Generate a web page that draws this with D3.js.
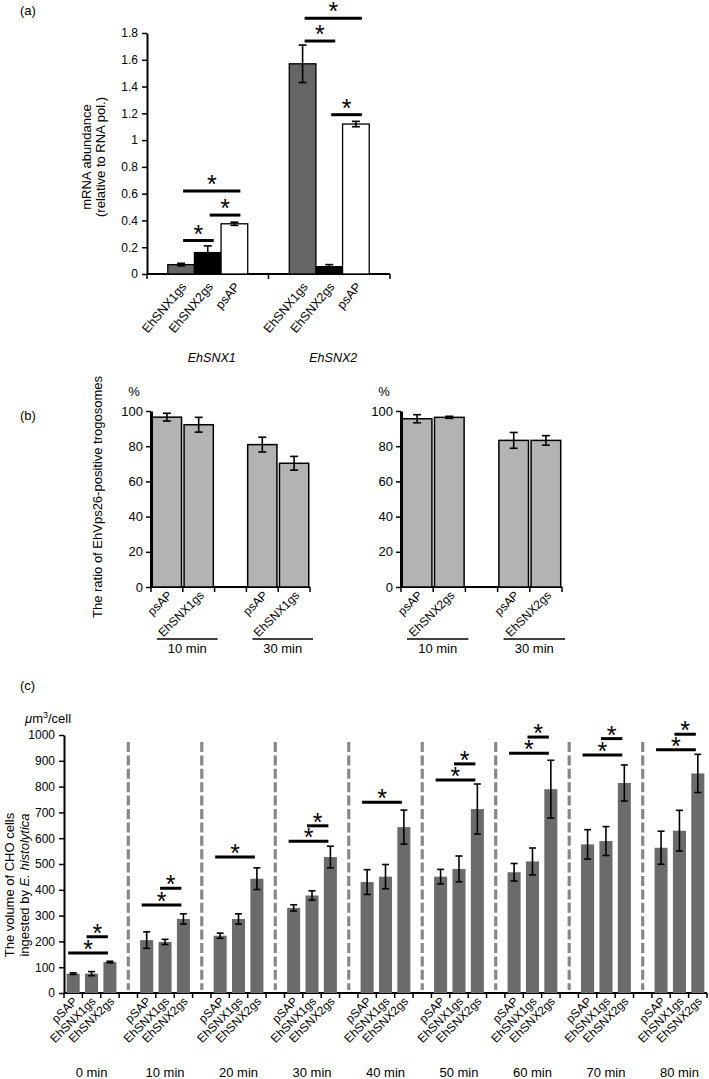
<!DOCTYPE html>
<html><head><meta charset="utf-8">
<script src="https://cdn.jsdelivr.net/npm/d3@7/dist/d3.min.js"></script>
<style>
body{margin:0;background:#fff}
text{font-family:"Liberation Sans",Arial,Helvetica,sans-serif;fill:#000}
</style>
</head><body>
<svg id="fig" width="709" height="1079"></svg>
<script>
// ================= DATA =================
// Panel (a): mRNA abundance
const aGenes = ["EhSNX1", "EhSNX2"];
const aStrains = ["EhSNX1gs", "EhSNX2gs", "psAP"];
const aColors = ["#666666", "#000000", "#ffffff"];
const aMeans = [[0.07, 0.16, 0.375], [1.57, 0.055, 1.12]];
const aErrors = [[0.01, 0.05, 0.012], [0.14, 0.015, 0.02]];
const aTicks = [0, 0.2, 0.4, 0.6, 0.8, 1, 1.2, 1.4, 1.6, 1.8];
const aTickLabels = ["0", "0.2", "0.4", "0.6", "0.8", "1", "1.2", "1.4", "1.6", "1.8"];
const aSig = [ // gene index, from strain, to strain, height
  {g: 0, a: 0, b: 1, y: 0.25}, {g: 0, a: 1, b: 2, y: 0.44}, {g: 0, a: 0, b: 2, y: 0.62},
  {g: 1, a: 0, b: 1, y: 1.74}, {g: 1, a: 1, b: 2, y: 1.19}, {g: 1, a: 0, b: 2, y: 1.91}
];

// Panel (b): ratio of EhVps26-positive trogosomes (%)
const bTimes = ["10 min", "30 min"];
const bStrainsLeft = ["psAP", "EhSNX1gs"];
const bStrainsRight = ["psAP", "EhSNX2gs"];
const bMeansLeft = [[96.5, 92.2], [80.9, 70.3]];
const bErrorsLeft = [[2.2, 4.2], [4.2, 3.9]];
const bMeansRight = [[95.6, 96.4], [83.3, 83.3]];
const bErrorsRight = [[2.3, 0.6], [4.5, 2.7]];
const bTicks = [0, 20, 40, 60, 80, 100];

// Panel (c): volume of CHO cells ingested (um^3/cell)
const cTimes = ["0 min", "10 min", "20 min", "30 min", "40 min", "50 min", "60 min", "70 min", "80 min"];
const cStrains = ["pSAP", "EhSNX1gs", "EhSNX2gs"];
const cMeansPSAP = [75, 205, 222, 330, 430, 451, 468, 576, 563];
const cMeansSNX1 = [75, 198, 287, 378, 451, 481, 510, 589, 629];
const cMeansSNX2 = [120, 287, 443, 527, 643, 713, 790, 814, 851];
const cErrPSAP = [3, 32, 10, 12, 48, 28, 34, 57, 64];
const cErrSNX1 = [8, 10, 20, 18, 47, 50, 52, 56, 79];
const cErrSNX2 = [3, 20, 42, 42, 66, 97, 112, 70, 74];
const cTicks = [0, 100, 200, 300, 400, 500, 600, 700, 800, 900, 1000];
const cSig = [ // time index, from strain, to strain, height
  {t: 0, a: 0, b: 2, y: 155}, {t: 0, a: 1, b: 2, y: 218},
  {t: 1, a: 0, b: 2, y: 341}, {t: 1, a: 1, b: 2, y: 406},
  {t: 2, a: 0, b: 2, y: 527},
  {t: 3, a: 0, b: 2, y: 588}, {t: 3, a: 1, b: 2, y: 648},
  {t: 4, a: 0, b: 2, y: 739},
  {t: 5, a: 0, b: 2, y: 826}, {t: 5, a: 1, b: 2, y: 888},
  {t: 6, a: 0, b: 2, y: 929}, {t: 6, a: 1, b: 2, y: 992},
  {t: 7, a: 0, b: 2, y: 922}, {t: 7, a: 1, b: 2, y: 986},
  {t: 8, a: 0, b: 2, y: 943}, {t: 8, a: 1, b: 2, y: 1003}
];

// ================= DRAWING =================
const svg = d3.select("#fig");

function errBar(g, x, y0, y1, cap, color) {
  g.append("line").attr("x1", x).attr("x2", x).attr("y1", y0).attr("y2", y1)
    .attr("stroke", color).attr("stroke-width", 1.6);
  [y0, y1].forEach(yy => g.append("line").attr("x1", x - cap / 2).attr("x2", x + cap / 2)
    .attr("y1", yy).attr("y2", yy).attr("stroke", color).attr("stroke-width", 1.6));
}
function sigMark(g, x1, x2, y, starDy) {
  g.append("line").attr("x1", x1).attr("x2", x2).attr("y1", y).attr("y2", y)
    .attr("stroke", "#000").attr("stroke-width", 3);
  g.append("text").attr("x", (x1 + x2) / 2).attr("y", y + starDy)
    .attr("text-anchor", "middle").attr("font-size", 25).text("*");
}
function styleAxis(sel, w) {
  sel.select(".domain").attr("stroke", "#000").attr("stroke-width", w);
  sel.selectAll(".tick line").attr("stroke", "#000").attr("stroke-width", 1.5);
}

// ---------- Panel (a) ----------
(function () {
  const g = svg.append("g");
  g.append("text").attr("x", 20).attr("y", 15).attr("font-size", 13).text("(a)");
  const x = d3.scaleBand().domain(aGenes).range([147, 390]);
  const xi = d3.scaleBand().domain(aStrains).range([0, x.bandwidth()]).paddingInner(0).paddingOuter(0.78);
  const y = d3.scaleLinear().domain([0, 1.8]).range([274, 33]);

  const yAx = g.append("g").attr("transform", "translate(147,0)")
    .call(d3.axisLeft(y).tickValues(aTicks).tickFormat((d, i) => aTickLabels[i]).tickSize(5).tickSizeOuter(0).tickPadding(4));
  styleAxis(yAx, 2);
  yAx.selectAll("text").attr("font-size", 12).attr("font-family", '"Liberation Sans",Arial,sans-serif');

  // x axis line with ticks at group boundaries
  g.append("line").attr("x1", x.range()[0]).attr("x2", x.range()[1]).attr("y1", y(0)).attr("y2", y(0))
    .attr("stroke", "#000").attr("stroke-width", 2);
  const bounds = aGenes.map(d => x(d)).concat([x.range()[1]]);
  bounds.forEach(b => g.append("line").attr("x1", b).attr("x2", b).attr("y1", y(0)).attr("y2", y(0) + 5)
    .attr("stroke", "#000").attr("stroke-width", 1.5));

  aGenes.forEach((gene, gi) => {
    aStrains.forEach((s, si) => {
      const v = aMeans[gi][si], e = aErrors[gi][si];
      const bx = x(gene) + xi(s);
      g.append("rect").attr("x", bx).attr("y", y(v)).attr("width", xi.bandwidth()).attr("height", y(0) - y(v))
        .attr("fill", aColors[si]).attr("stroke", "#000").attr("stroke-width", 1.3);
      errBar(g, bx + xi.bandwidth() / 2, y(v - e), y(v + e), 8, "#000");
      g.append("text")
        .attr("transform", `translate(${bx + xi.bandwidth() / 2 + 6},${y(0) + 13}) rotate(-50)`)
        .attr("text-anchor", "end").attr("font-size", 12.5).text(s);
    });
    g.append("text").attr("x", x(gene) + x.bandwidth() / 2 + 4).attr("y", 362)
      .attr("text-anchor", "middle").attr("font-size", 12.5).attr("font-style", "italic").text(gene);
  });
  aSig.forEach(s => {
    const c = i => x(aGenes[s.g]) + xi(aStrains[i]) + xi.bandwidth() / 2;
    sigMark(g, c(s.a) + 2, c(s.b) + 6, y(s.y), 2);
  });
  const yl = g.append("text").attr("transform", "translate(91,157) rotate(-90)")
    .attr("text-anchor", "middle").attr("font-size", 13);
  yl.append("tspan").attr("x", 0).attr("dy", 0).text("mRNA abundance");
  yl.append("tspan").attr("x", 0).attr("dy", 14).text("(relative to RNA pol.)");
})();

// ---------- Panel (b) ----------
function panelB(x0, x1, strains, means, errs, drawYLabel) {
  const g = svg.append("g");
  const cats = d3.range(bTimes.length * 3 - 1);
  const x = d3.scaleBand().domain(cats).range([x0, x1]).paddingInner(0.08).paddingOuter(0.04);
  const y = d3.scaleLinear().domain([0, 100]).range([587, 411]);
  const yAx = g.append("g").attr("transform", `translate(${x0},0)`)
    .call(d3.axisLeft(y).tickValues(bTicks).tickSize(5).tickSizeOuter(0).tickPadding(3));
  styleAxis(yAx, 3);
  yAx.selectAll("text").attr("font-size", 13).attr("font-family", 'Lato,"Open Sans",sans-serif');
  g.append("text").attr("x", x0 - 17).attr("y", 396).attr("text-anchor", "middle")
    .attr("font-size", 13).attr("font-family", 'Lato,sans-serif').text("%");

  g.append("line").attr("x1", x0).attr("x2", x1).attr("y1", y(0)).attr("y2", y(0))
    .attr("stroke", "#000").attr("stroke-width", 2.2);
  d3.range(cats.length + 1).forEach(i => {
    const bx = x0 + i * x.step();
    g.append("line").attr("x1", bx).attr("x2", bx).attr("y1", y(0)).attr("y2", y(0) + 5)
      .attr("stroke", "#000").attr("stroke-width", 1.5);
  });

  bTimes.forEach((t, ti) => {
    strains.forEach((s, si) => {
      const ci = ti * 3 + si, v = means[ti][si], e = errs[ti][si];
      const cx = x(ci) + x.bandwidth() / 2;
      g.append("rect").attr("x", x(ci)).attr("y", y(v)).attr("width", x.bandwidth()).attr("height", y(0) - y(v))
        .attr("fill", "#b3b3b3").attr("stroke", "#000").attr("stroke-width", 1.5);
      errBar(g, cx, y(v - e), y(v + e), 8, "#000");
      g.append("text").attr("transform", `translate(${cx + 6},${y(0) + 9}) rotate(-45)`)
        .attr("text-anchor", "end").attr("font-size", 12).text(s);
    });
    const lx1 = x0 + ti * 3 * x.step() + 6, lx2 = x0 + (ti * 3 + 2) * x.step() + 3;
    g.append("line").attr("x1", lx1).attr("x2", lx2).attr("y1", 639).attr("y2", 639)
      .attr("stroke", "#000").attr("stroke-width", 1.5);
    g.append("text").attr("x", (lx1 + lx2) / 2).attr("y", 653).attr("text-anchor", "middle")
      .attr("font-size", 13).text(t);
  });
  if (drawYLabel) {
    g.append("text").attr("transform", "translate(102,497) rotate(-90)").attr("text-anchor", "middle")
      .attr("font-size", 13).text("The ratio of EhVps26-positive trogosomes");
    g.append("text").attr("x", 20).attr("y", 420).attr("font-size", 13).text("(b)");
  }
}
panelB(151, 310, bStrainsLeft, bMeansLeft, bErrorsLeft, true);
panelB(401, 562, bStrainsRight, bMeansRight, bErrorsRight, false);

// ---------- Panel (c) ----------
(function () {
  const g = svg.append("g");
  g.append("text").attr("x", 20).attr("y", 690).attr("font-size", 13).text("(c)");
  const nCat = cTimes.length * 4 - 1;
  const x = d3.scaleBand().domain(d3.range(nCat)).range([64, 707]).paddingInner(0.29).paddingOuter(0.145);
  const y = d3.scaleLinear().domain([0, 1000]).range([993, 735]);
  const means = [cMeansPSAP, cMeansSNX1, cMeansSNX2];
  const errs = [cErrPSAP, cErrSNX1, cErrSNX2];
  const ctr = i => x(i) + x.bandwidth() / 2;

  // dashed separators
  d3.range(cTimes.length - 1).forEach(t => {
    const sx = ctr(t * 4 + 3);
    g.append("line").attr("x1", sx).attr("x2", sx).attr("y1", 742).attr("y2", 990)
      .attr("stroke", "#888").attr("stroke-width", 3.2).attr("stroke-dasharray", "10,3.4");
  });

  const yAx = g.append("g").attr("transform", "translate(64,0)")
    .call(d3.axisLeft(y).tickValues(cTicks).tickFormat(d3.format("d")).tickSize(5).tickSizeOuter(0).tickPadding(4));
  styleAxis(yAx, 2);
  yAx.selectAll("text").attr("font-size", 12).attr("font-family", '"Liberation Sans",Arial,sans-serif');

  g.append("line").attr("x1", 64).attr("x2", 707).attr("y1", y(0)).attr("y2", y(0))
    .attr("stroke", "#000").attr("stroke-width", 2);
  d3.range(nCat + 1).forEach(i => {
    const bx = 64 + i * x.step();
    g.append("line").attr("x1", bx).attr("x2", bx).attr("y1", y(0)).attr("y2", y(0) + 5)
      .attr("stroke", "#000").attr("stroke-width", 1.5);
  });

  cTimes.forEach((t, ti) => {
    cStrains.forEach((s, si) => {
      const ci = ti * 4 + si, v = means[si][ti], e = errs[si][ti];
      g.append("rect").attr("x", x(ci)).attr("y", y(v)).attr("width", x.bandwidth()).attr("height", y(0) - y(v))
        .attr("fill", "#6b6b6b");
      errBar(g, ctr(ci), y(v - e), y(v + e), 7, "#000");
      g.append("text").attr("transform", `translate(${ctr(ci) + 5},${y(0) + 9}) rotate(-45)`)
        .attr("text-anchor", "end").attr("font-size", 12).text(s);
    });
    g.append("text").attr("x", ctr(ti * 4 + 1)).attr("y", 1077).attr("text-anchor", "middle")
      .attr("font-size", 13).text(t);
  });
  cSig.forEach(s => {
    sigMark(g, ctr(s.t * 4 + s.a) - 5, ctr(s.t * 4 + s.b) - 2, y(s.y), 5);
  });

  const u = g.append("text").attr("x", 25).attr("y", 723).attr("font-size", 13);
  u.append("tspan").attr("font-style", "italic").text("\u03bc");
  u.append("tspan").text("m");
  u.append("tspan").attr("font-size", 9).attr("dy", -5).text("3");
  u.append("tspan").attr("dy", 5).text("/cell");

  const yl = g.append("text").attr("transform", "translate(14,885) rotate(-90)")
    .attr("text-anchor", "middle").attr("font-size", 13);
  yl.append("tspan").attr("x", 0).attr("dy", 0).text("The volume of CHO cells");
  const l2 = yl.append("tspan").attr("x", 0).attr("dy", 14.5);
  l2.append("tspan").text("ingested by ");
  l2.append("tspan").attr("font-style", "italic").text("E. histolytica");
})();
</script>
</body></html>
